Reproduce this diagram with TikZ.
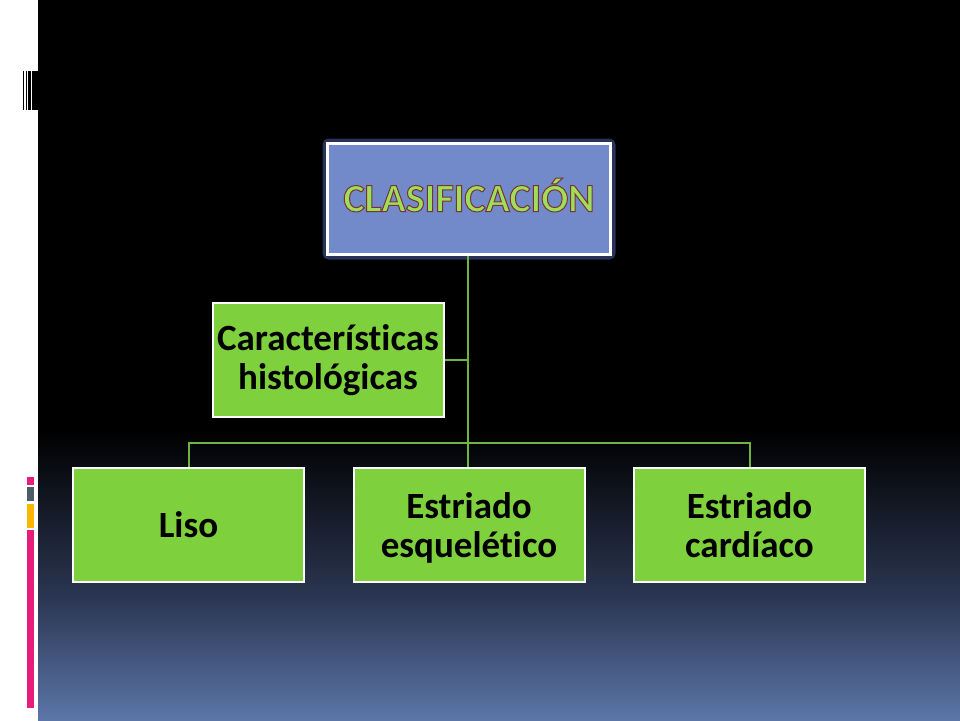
\documentclass[tikz,border=0pt]{standalone}
\usepackage{fontspec}
\setmainfont{Carlito}[RawFeature={-liga;-clig;-dlig;-calt}]
\usetikzlibrary{positioning}
\definecolor{boxgreen}{RGB}{126,208,60}
\definecolor{linegreen}{RGB}{110,180,62}
\definecolor{headblue}{RGB}{114,138,202}
\definecolor{glow}{RGB}{40,50,90}
\definecolor{bgmid}{RGB}{42,53,80}
\definecolor{bgbot}{RGB}{92,118,168}
\definecolor{barpink}{RGB}{232,28,122}
\definecolor{bargray}{RGB}{78,92,106}
\definecolor{barorange}{RGB}{248,182,0}
\definecolor{titlegreen}{RGB}{160,222,90}
\newcommand\outlinetext[1]{\special{pdf:code q 1.0 w 0.47 0.2 0.2 RG 2 Tr}#1\special{pdf:code Q}}
\tikzset{
  greenbox/.style={draw=white, line width=2pt, fill=boxgreen, minimum width=231pt, minimum height=114pt,
    align=center, font=\bfseries\fontsize{37}{39}\selectfont, text=black, inner sep=0pt},
  headbox/.style={draw=white, line width=3pt, fill=headblue, minimum width=283pt, minimum height=111pt,
    inner sep=0pt},
  conn/.style={draw=linegreen, line width=2pt}
}
\begin{document}
\begin{tikzpicture}[x=1pt,y=-1pt]
\useasboundingbox (0,0) rectangle (960,720);
% background
\fill[black] (38,0) rectangle (960,720);
\shade[top color=black, bottom color=bgmid] (38,430) rectangle (960,595);
\shade[top color=bgmid, bottom color=bgbot] (38,595) rectangle (960,720);
\fill[white] (0,0) rectangle (38,720);
% top-left bars
\fill[black] (22.7,71) rectangle (24.3,110);
\fill[black] (26,71) rectangle (27.2,110);
\fill[black] (28,71) rectangle (31,110);
\fill[black] (32,71) rectangle (38,110);
% left colored bars
\fill[barpink] (27,477) rectangle (33.7,485);
\fill[bargray] (27,487) rectangle (33.7,501);
\fill[barorange] (27,504) rectangle (33.7,528);
\fill[barpink] (27,530) rectangle (33.7,708);
% heading glow
\draw[glow, line width=7pt, rounded corners=3pt] (326,142) rectangle (612,256);
\node[headbox] (head) at (469,199) {};
\node[text=titlegreen, font=\bfseries\fontsize{40}{44}\selectfont, inner sep=0pt] (title) at (469,195) {\outlinetext{CLASIFICACIÓN}};
\node[greenbox] (char) at (328,360) {Características\\histológicas};
\node[greenbox] (liso) at (188.5,525) {Liso};
\node[greenbox, text depth=0pt] (esq) at (469,525) {Estriado\\esquelético};
\node[greenbox] (card) at (749.5,525) {Estriado\\cardíaco};
\coordinate (bus) at (468,443);
% connectors
\draw[conn] (head.south -| bus) -- (bus) -- (bus |- esq.north);
\draw[conn] (liso.north) -- (liso.north |- bus) -- (card.north |- bus) -- (card.north);
\draw[conn] (char.east) -- (char.east -| bus);
\end{tikzpicture}
\end{document}
